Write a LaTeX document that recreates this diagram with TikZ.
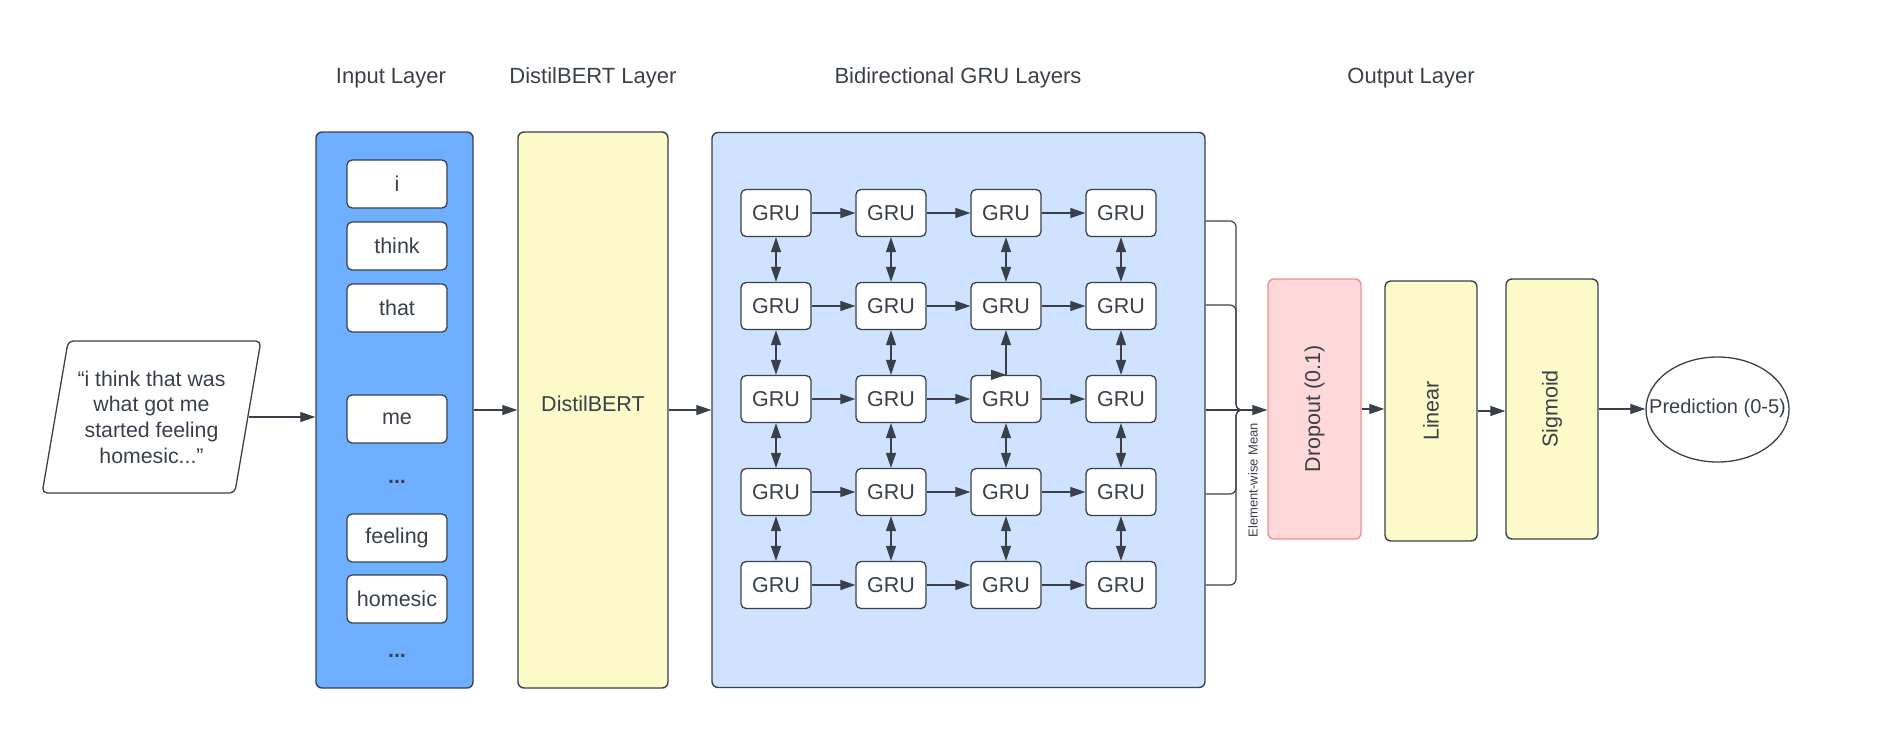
\documentclass[tikz,border=0pt]{standalone}
\usepackage{fontspec}
\setmainfont{Liberation Sans}
\usepackage{xcolor}
\definecolor{inblue}{RGB}{110,175,255}
\definecolor{grublue}{RGB}{207,226,255}
\definecolor{bertyel}{RGB}{252,250,200}
\definecolor{droppink}{RGB}{255,216,218}
\definecolor{dropred}{RGB}{246,140,140}
\definecolor{inkgray}{RGB}{58,64,74}
\usepackage{tikz}
\usetikzlibrary{shapes, arrows.meta, positioning}

\begin{document}
\begin{tikzpicture}[x=1pt, y=-1pt, color=inkgray,
    >={Triangle[length=15pt, width=10pt]},
    font=\fontsize{21.5}{25.7}\selectfont,
    layerbox/.style={draw, rounded corners=6pt, line width=1.4pt, inner sep=0pt},
    wordbox/.style={draw, fill=white, rounded corners=5pt, line width=1.3pt, minimum width=100pt, minimum height=48pt, inner sep=0pt},
    gru/.style={draw, fill=white, rounded corners=5pt, line width=1.3pt, minimum width=70pt, minimum height=47pt, inner sep=0pt},
    headline/.style={anchor=base, font=\fontsize{22}{26}\selectfont},
    link/.style={->, line width=1.2pt}]

    \useasboundingbox (0,0) rectangle (1878,728);

    % Layer titles
    \node[headline] (tin) at (391,83) {Input Layer};
    \node[headline] (tbert) at (593,83) {DistilBERT Layer};
    \node[headline] (tgru) at (958,83) {Bidirectional GRU Layers};
    \node[headline] (tout) at (1411,83) {Output Layer};

    % Input sentence
    \node[draw, trapezium, trapezium left angle=76, trapezium right angle=104,
          trapezium stretches=true, minimum width=219pt, minimum height=152pt,
          rounded corners=5pt, line width=1.3pt, align=center, inner sep=0pt,
          font=\fontsize{21.3}{25.7}\selectfont] (quote) at (151.5,417)
          {“i think that was\\what got me\\started feeling\\homesic...”};

    % Input layer with tokens
    \node[layerbox, fill=inblue, minimum width=157pt, minimum height=556pt] (inlayer) at (394.5,410) {};
    \foreach \w/\y in {i/184, think/246, that/308, me/419, feeling/538, homesic/599}
        \node[wordbox] (w-\w) at (397,\y) {\w};
    \node (dots1) at (397,482) {\textbf{...}};
    \node (dots2) at (397,656) {\textbf{...}};

    % DistilBERT layer
    \node[layerbox, fill=bertyel, minimum width=150pt, minimum height=556pt] (bert) at (593,410) {};
    \node (berttxt) at ([yshift=6pt]bert.center) {DistilBERT};

    % GRU layers
    \node[layerbox, fill=grublue, minimum width=493pt, minimum height=555pt] (grubox) at (958.5,410) {};
    \foreach \r in {1,...,5} {
        \foreach \c in {1,...,4} {
            \node[gru] (g\r\c) at ({776+115*(\c-1)},{213+93*(\r-1)}) {GRU};
        }
    }
    \foreach \r in {1,...,5} {
        \foreach \c/\n in {1/2, 2/3, 3/4} {
            \draw[link] (g\r\c) -- (g\r\n);
        }
    }
    \foreach \r/\s in {1/2, 2/3, 3/4, 4/5} {
        \foreach \c in {1,...,4} {
            \ifnum\r\c=23
                \draw[link] (g\s\c) -- (g\r\c);
                \draw[link] ([xshift=-15pt]g\s\c.north) -- (g\s\c.north);
            \else
                \draw[link, <->] (g\r\c) -- (g\s\c);
            \fi
        }
    }

    % Output layer
    \node[layerbox, fill=droppink, draw=dropred, minimum width=93pt, minimum height=260pt] (drop) at (1314.5,409) {};
    \node[rotate=90] (droptxt) at (drop.center) {Dropout (0.1)};
    \node[layerbox, fill=bertyel, minimum width=92pt, minimum height=260pt] (lin) at (1431,411) {};
    \node[rotate=90] (lintxt) at (lin.center) {Linear};
    \node[layerbox, fill=bertyel, minimum width=92pt, minimum height=260pt] (sig) at (1552,409) {};
    \node[rotate=90] (sigtxt) at (sig.center) {Sigmoid};
    \node[draw, ellipse, line width=1.3pt, minimum width=143pt, minimum height=105pt, inner sep=0pt] (pred) at (1717.5,409.5) {};
    \node[font=\fontsize{20}{24}\selectfont] (predtxt) at ([yshift=1pt]pred.center) {Prediction (0-5)};

    % Element-wise mean
    \coordinate (merge) at (1236,410);
    \foreach \y in {221,305,494,585} {
        \coordinate (tap\y) at (grubox.east |- 0,\y);
        \draw[rounded corners=6pt, line width=1.2pt] (tap\y) -| (merge) -- ++(10,0);
    }
    \node[rotate=90, font=\fontsize{13}{15}\selectfont] (meanlbl) at (1253,480) {Element-wise Mean};

    % Arrows between layers
    \draw[link] (quote.east) -- (quote.east -| inlayer.west);
    \draw[link] (inlayer) -- (bert);
    \draw[link] (bert) -- (grubox);
    \draw[link] (grubox.east |- merge) -- (merge -| drop.west);
    \draw[link] (drop.east) -- (drop.east -| lin.west);
    \draw[link] (lin.east) -- (lin.east -| sig.west);
    \draw[link] (sig.east) -- (sig.east -| pred.west);
\end{tikzpicture}
\end{document}
